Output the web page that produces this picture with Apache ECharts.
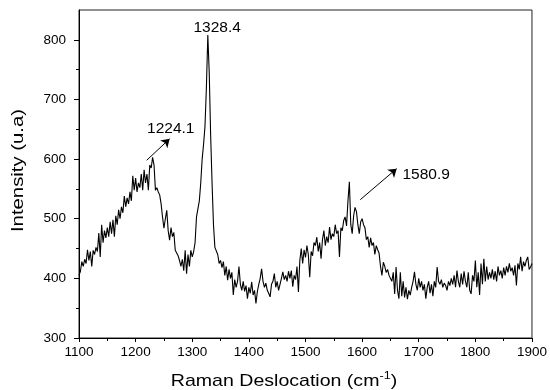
<!DOCTYPE html>
<html><head><meta charset="utf-8">
<script src="https://cdn.jsdelivr.net/npm/echarts@6/dist/echarts.min.js"></script>
<style>html,body{margin:0;padding:0;background:#fff}#c{width:550px;height:390px}</style>
</head><body><div id="c"></div>
<script>
// Raman spectrum: wavenumber start/step (cm-1) and intensity values
const waveStart = 1100;
const waveStep = 2.5;
const intensity = [
405,412,428,420,432,425,448,430,445,420,447,440,452,445,476,436,490,460,480,468,
485,470,495,475,498,470,505,490,515,500,520,510,538,520,535,525,545,530,572,548,
568,545,560,552,575,548,582,560,575,548,590,585,603,590,548,552,545,540,525,503,
484,500,514,480,464,485,470,477,447,444,438,430,420,432,413,447,408,440,420,447,
436,445,460,503,505,530,560,600,625,655,720,808,745,640,560,490,452,450,440,425,
430,418,428,405,420,397,415,400,410,372,398,385,395,420,390,380,395,378,388,366,
385,375,394,372,380,358,378,390,400,416,395,385,392,380,375,369,390,395,408,385,
395,380,377,400,411,398,405,395,412,400,413,386,405,398,420,377,430,450,425,448,
435,455,440,402,445,438,460,455,469,445,460,433,465,480,455,470,460,486,465,475,
470,490,475,480,436,485,480,497,503,488,530,562,490,475,505,519,512,490,475,495,
500,490,485,465,470,452,468,455,460,440,455,448,442,420,405,427,420,410,415,405,
405,395,410,374,419,380,366,410,370,395,368,385,365,380,372,385,395,411,390,380,
400,385,395,380,390,366,385,395,375,390,370,395,385,419,395,390,398,385,392,388,
380,395,388,400,390,405,385,413,395,385,408,390,412,395,385,410,380,374,405,395,
430,385,410,372,425,390,433,395,420,398,410,400,415,398,412,395,420,405,413,400,
418,405,420,410,425,412,418,405,422,388,425,415,436,412,428,420,430,436,415,419,
425
];
const yMajor = [300,400,500,600,700,800];
const yMinor = [350,450,550,650,750];
const xTitle = 'Raman Deslocation (cm{sup|-1})';
const yTitle = 'Intensity (u.a)';
const peakLabels = ['1224.1','1328.4','1580.9'];
const peakLabelPos = [[1262,651],[1344,820],[1713,574]];
const arrowFrom = [[1219.5,598],[1596.8,532]];
const arrowTo = [[1260,634],[1661,584]];

const seriesData = intensity.map((v,i)=>[waveStart + i*waveStep, v]);
const font = '"Liberation Sans", Arial, sans-serif';

const chart = echarts.init(document.getElementById('c'), null, {renderer:'canvas'});
chart.setOption({
  animation:false,
  backgroundColor:'#fff',
  grid:{left:79, right:16, top:10, bottom:52, show:true, borderColor:'#222', borderWidth:1, backgroundColor:'transparent'},
  xAxis:{
    type:'value', min:1100, max:1900, interval:100,
    axisLine:{lineStyle:{color:'#000', width:1}},
    axisTick:{show:true, length:4, lineStyle:{color:'#000'}},
    minorTick:{show:true, splitNumber:2, length:3, lineStyle:{color:'#000'}},
    splitLine:{show:false},
    axisLabel:{color:'#000', fontSize:13.5, fontFamily:font, margin:7, formatter:v=>String(v)}
  },
  yAxis:[{
    type:'value', min:300, max:850,
    axisLine:{show:true, lineStyle:{color:'#000', width:1}},
    axisTick:{show:true, length:5, lineStyle:{color:'#000'}, customValues:yMajor},
    splitLine:{show:false},
    axisLabel:{color:'#000', fontSize:13.5, fontFamily:font, margin:13, customValues:yMajor}
  },{
    type:'value', min:300, max:850, position:'left',
    axisLine:{show:false},
    axisTick:{show:true, length:3, lineStyle:{color:'#000'}, customValues:yMinor},
    splitLine:{show:false},
    axisLabel:{show:false}
  }],
  graphic:[{
    type:'text', x:284, y:381, scaleX:1.15, scaleY:1,
    style:{
      text:xTitle, align:'center', verticalAlign:'middle',
      rich:{sup:{fontSize:11, fontFamily:font, fill:'#000', padding:[0,0,10,0]}},
      font:'17px '+font, fill:'#000'
    }
  },{
    type:'text', x:18.5, y:170.5, rotation:Math.PI/2, scaleX:1.27, scaleY:1,
    style:{text:yTitle, align:'center', verticalAlign:'middle', font:'16px '+font, fill:'#000'}
  }],
  series:[{
    type:'line', data:seriesData, symbol:'none', yAxisIndex:0,
    lineStyle:{color:'#000', width:1.1},
    markLine:{
      silent:true, animation:false,
      symbol:['none','arrow'], symbolSize:8,
      lineStyle:{color:'#000', width:1, type:'solid'},
      label:{show:false},
      data: arrowFrom.map((p,i)=>[{coord:p},{coord:arrowTo[i]}])
    },
    markPoint:{
      silent:true, animation:false,
      symbol:'circle', symbolSize:0,
      label:{show:true, position:'inside', color:'#000', fontSize:15.5, fontFamily:font},
      data: peakLabels.map((t,i)=>({coord:peakLabelPos[i], value:t, label:{formatter:t}}))
    }
  }]
});
</script></body></html>
